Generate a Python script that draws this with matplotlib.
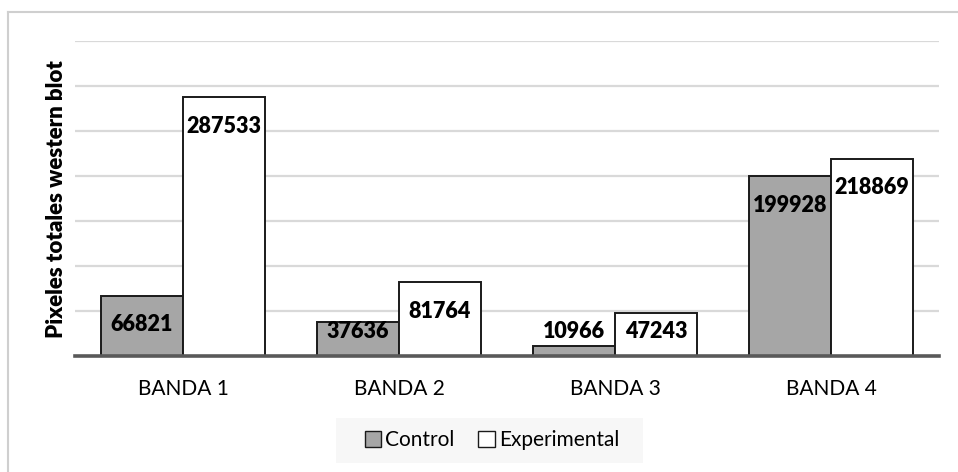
import matplotlib
matplotlib.use("Agg")
import matplotlib.pyplot as plt
from matplotlib.patches import Patch, Rectangle
from matplotlib.lines import Line2D
import numpy as np

categories = ["BANDA 1", "BANDA 2", "BANDA 3", "BANDA 4"]
control = [66821, 37636, 10966, 199928]
experimental = [287533, 81764, 47243, 218869]
series_names = ["Control", "Experimental"]
y_title = "Pixeles totales western blot"

plt.rcParams["font.family"] = ["Lato", "DejaVu Sans"]

W, H = 958, 472
fig = plt.figure(figsize=(W / 100, H / 100), dpi=100)
fig.patch.set_facecolor("white")

# plot area in pixel coordinates
left, right, top, base = 75, 939, 41, 356
ax = fig.add_axes([left / W, 1 - base / H, (right - left) / W, (base - top) / H])

x = np.arange(len(categories))
bw = 0.38
ctrl_color = "#a6a6a6"
edge = "#1a1a1a"

ax.bar(x - bw / 2, control, bw, color=ctrl_color, edgecolor=edge, linewidth=1.4, zorder=3)
ax.bar(x + bw / 2, experimental, bw, color="white", edgecolor=edge, linewidth=1.4, zorder=3)

ax.set_xlim(-0.5, len(categories) - 0.5)
ax.set_ylim(0, 350000)
ax.set_yticks(np.arange(50000, 350001, 50000))
ax.yaxis.grid(True, color="#d9d9d9", linewidth=1.6, zorder=0)
ax.set_axisbelow(True)
ax.tick_params(axis="y", left=False, labelleft=False)
ax.set_xticks(x)
ax.set_xticklabels(categories, fontsize=15)
ax.tick_params(axis="x", length=0, pad=16.5, colors="#000000")

for s in ["left", "right", "top"]:
    ax.spines[s].set_visible(False)
ax.spines["bottom"].set_color("#595959")
ax.spines["bottom"].set_linewidth(2.6)
ax.spines["bottom"].set_zorder(4)

# data labels near the inside end of each bar
def label_y(v):
    return max(v - 32200, 26700)

for xi, v in zip(x, control):
    ax.text(xi - bw / 2, label_y(v), f"{v}", ha="center", va="center",
            fontsize=15.5, fontweight="heavy", color="black", zorder=5)
for xi, v in zip(x, experimental):
    ax.text(xi + bw / 2, label_y(v), f"{v}", ha="center", va="center",
            fontsize=15.5, fontweight="heavy", color="black", zorder=5)

fig.text(57 / W, 1 - 199 / H, y_title, rotation=90, ha="center", va="center",
         fontsize=16, fontweight="heavy")

# legend on a light background box
fig.add_artist(Rectangle((336 / W, 1 - 463 / H), (643 - 336) / W, 45 / H,
                         transform=fig.transFigure, facecolor="#f7f7f7",
                         edgecolor="none", zorder=1))
handles = [Patch(facecolor=ctrl_color, edgecolor=edge, linewidth=1.0),
           Patch(facecolor="white", edgecolor=edge, linewidth=1.0)]
leg = fig.legend(handles, series_names, loc="center", bbox_to_anchor=(492 / W, 1 - 440.5 / H),
                 ncol=2, frameon=False, fontsize=15, handlelength=0.77, handleheight=0.77,
                 handletextpad=0.2, columnspacing=1.15, borderpad=0.0)
leg.set_zorder(2)

# chart area border
fig.add_artist(Line2D([8 / W, 8 / W], [0, 1 - 12 / H], transform=fig.transFigure,
                      color="#cfcfcf", linewidth=1.5))
fig.add_artist(Line2D([8 / W, 1], [1 - 12 / H, 1 - 12 / H], transform=fig.transFigure,
                      color="#cfcfcf", linewidth=1.5))

fig.savefig("out.png", dpi=100)
